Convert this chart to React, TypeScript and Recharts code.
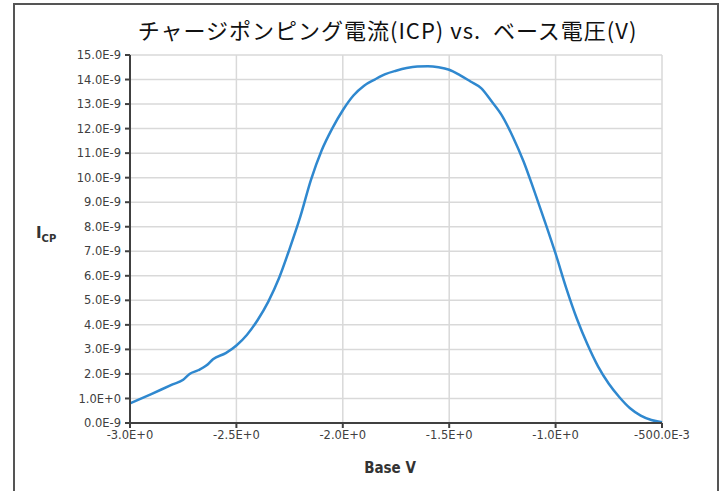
import { LineChart, Line, XAxis, YAxis, CartesianGrid } from "recharts";

// base voltage (V)
const baseV = [
  -3.0, -2.9, -2.8, -2.75, -2.72, -2.68, -2.64, -2.61, -2.55, -2.5, -2.45, -2.4, -2.35, -2.3,
  -2.25, -2.2, -2.15, -2.1, -2.05, -2.0, -1.95, -1.9, -1.85, -1.8, -1.75, -1.7, -1.65, -1.6,
  -1.55, -1.5, -1.45, -1.4, -1.35, -1.3, -1.25, -1.2, -1.15, -1.1, -1.05, -1.0, -0.95, -0.9,
  -0.85, -0.8, -0.75, -0.7, -0.65, -0.6, -0.55, -0.5,
];
// charge pumping current, in 1E-9 A
const icp = [
  0.8, 1.18, 1.57, 1.76, 2.0, 2.15, 2.35, 2.6, 2.85, 3.16, 3.6, 4.2, 4.95, 5.9,
  7.1, 8.4, 9.9, 11.1, 12.0, 12.75, 13.35, 13.75, 14.0, 14.22, 14.36, 14.47, 14.53, 14.54,
  14.5, 14.4, 14.18, 13.92, 13.65, 13.1, 12.5, 11.65, 10.65, 9.45, 8.2, 6.9, 5.5, 4.25,
  3.2, 2.3, 1.6, 1.05, 0.6, 0.3, 0.12, 0.03,
];

const xTicks = [-3.0, -2.5, -2.0, -1.5, -1.0, -0.5];
const xTickLabels = ["-3.0E+0", "-2.5E+0", "-2.0E+0", "-1.5E+0", "-1.0E+0", "-500.0E-3"];
const yTicks = [0, 1, 2, 3, 4, 5, 6, 7, 8, 9, 10, 11, 12, 13, 14, 15];
const yTickLabels = [
  "0.0E-9", "1.0E+0", "2.0E-9", "3.0E-9", "4.0E-9", "5.0E-9", "6.0E-9", "7.0E-9",
  "8.0E-9", "9.0E-9", "10.0E-9", "11.0E-9", "12.0E-9", "13.0E-9", "14.0E-9", "15.0E-9",
];

const data = baseV.map((v, i) => ({ v, icp: icp[i] }));

const tickStyle = { fontSize: 11.5, fill: "#404040", fontFamily: "'DejaVu Sans', sans-serif" };

export default function App() {
  return (
    <div style={{ position: "absolute", left: 0, top: 0, width: 725, height: 491, background: "#fff", overflow: "hidden" }}>
      {/* outer frame */}
      <div
        style={{
          position: "absolute", left: 13, top: 3, width: 702, height: 500,
          borderLeft: "2px solid #555", borderTop: "2px solid #555", borderRight: "2px solid #555",
        }}
      />
      <div
        style={{
          position: "absolute", left: 0, width: 775, top: 15, textAlign: "center", letterSpacing: 1,
          fontSize: 22, fontFamily: "'Noto Sans CJK JP', sans-serif", color: "#111", lineHeight: "28px",
        }}
      >
        チャージポンピング電流(ICP) vs.&nbsp; ベース電圧(V)
      </div>
      <div
        style={{
          position: "absolute", left: 36, top: 224, fontWeight: "bold", fontSize: 15,
          fontFamily: "'DejaVu Sans', sans-serif", color: "#333",
        }}
      >
        I<sub style={{ fontSize: 10 }}>CP</sub>
      </div>
      <div
        style={{
          position: "absolute", left: 124, width: 532, top: 459, textAlign: "center", fontWeight: "bold",
          fontSize: 15, fontFamily: "'DejaVu Sans Condensed', 'DejaVu Sans', sans-serif", color: "#333",
        }}
      >
        Base V
      </div>
      <div style={{ position: "absolute", left: 0, top: 0 }}>
        <LineChart width={725} height={491} data={data} margin={{ top: 55, right: 63, left: 0, bottom: 0 }}>
          <CartesianGrid stroke="#d9d9d9" strokeWidth={1.5} />
          <XAxis
            dataKey="v"
            type="number"
            domain={[-3, -0.5]}
            ticks={xTicks}
            tickFormatter={(v: number) => xTickLabels[xTicks.indexOf(v)] ?? ""}
            height={68}
            tick={tickStyle}
            tickSize={5}
            tickMargin={3}
            stroke="#404040"
            strokeWidth={2}
            interval={0}
          />
          <YAxis
            type="number"
            domain={[0, 15]}
            ticks={yTicks}
            tickFormatter={(v: number) => yTickLabels[yTicks.indexOf(v)] ?? ""}
            width={130}
            tick={tickStyle}
            tickSize={5}
            tickMargin={4}
            stroke="#404040"
            strokeWidth={2}
            interval={0}
          />
          <Line
            dataKey="icp"
            type="monotone"
            stroke="#2f88cf"
            strokeWidth={2.5}
            dot={false}
            isAnimationActive={false}
          />
        </LineChart>
      </div>
    </div>
  );
}
